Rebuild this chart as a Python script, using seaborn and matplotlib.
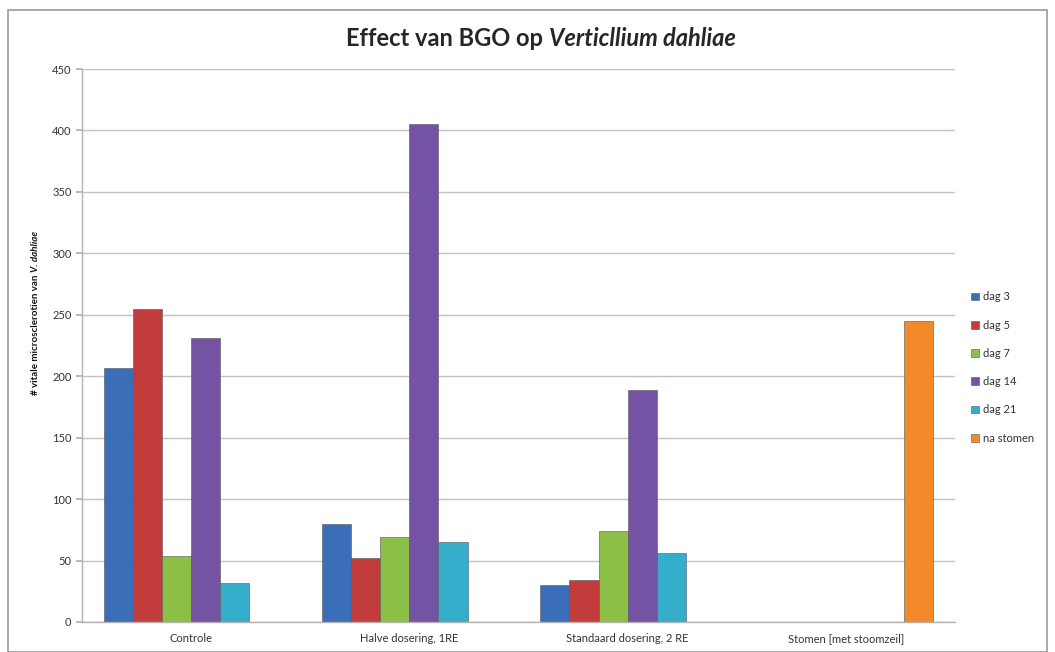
import matplotlib
matplotlib.use("Agg")
import matplotlib.pyplot as plt
import seaborn as sns
import pandas as pd
import numpy as np
from matplotlib.patches import Rectangle

categories = ["Controle", "Halve dosering, 1RE", "Standaard dosering, 2 RE", "Stomen [met stoomzeil]"]
series = ["dag 3", "dag 5", "dag 7", "dag 14", "dag 21", "na stomen"]
dag3 = [207, 80, 30, np.nan]
dag5 = [255, 52, 34, np.nan]
dag7 = [54, 69, 74, np.nan]
dag14 = [231, 405, 189, np.nan]
dag21 = [32, 65, 56, np.nan]
na_stomen = [np.nan, np.nan, np.nan, 245]
colors = ["#3A6EB8", "#C23C3B", "#8CBF48", "#7452A4", "#34AECB", "#F28A2C"]

values = [dag3, dag5, dag7, dag14, dag21, na_stomen]
rows = []
for s, vals in zip(series, values):
    for c, v in zip(categories, vals):
        rows.append({"cat": c, "serie": s, "val": v})
df = pd.DataFrame(rows)

sns.set_theme(style="white")
plt.rcParams['font.family'] = ['Lato', 'DejaVu Sans']

fig = plt.figure(figsize=(10.55, 6.52), dpi=100)
ax = fig.add_axes([82/1055, 1-622/652, (955-82)/1055, (622-69)/652])

sns.barplot(data=df, x="cat", y="val", hue="serie", order=categories, hue_order=series,
            palette=colors, width=0.8, ax=ax, saturation=1, edgecolor="#555555", linewidth=0.4)

ax.set_ylim(0, 450)
ax.set_yticks(range(0, 451, 50))
ax.yaxis.grid(True, color="#CBBFBD", linewidth=1.0)
ax.set_axisbelow(True)
ax.set_xlabel("")
ax.set_ylabel("")
for s in ["top", "right"]:
    ax.spines[s].set_visible(False)
for s in ["left", "bottom"]:
    ax.spines[s].set_color("#B8AFAF")
    ax.spines[s].set_linewidth(1.0)
ax.tick_params(axis="y", labelsize=8, colors="#333333", length=4, direction="out", left=True, color="#B8AFAF")
ax.tick_params(axis="x", labelsize=8, colors="#333333", length=0, pad=8)

# legend
h, l = ax.get_legend_handles_labels()
leg = ax.legend(h, l, loc="upper left", bbox_to_anchor=(967/1055, 1-287/652), bbox_transform=fig.transFigure,
                frameon=False, fontsize=8, handlelength=0.7, handleheight=0.7, labelspacing=1.55,
                handletextpad=0.3, borderaxespad=0)
for t in leg.get_texts():
    t.set_color("#333333")

fig.canvas.draw()
r = fig.canvas.get_renderer()

# title: bold + bold italic
t1 = fig.text(0, 0, "Effect van BGO op ", fontsize=17, fontweight="bold", ha="left", va="center")
t2 = fig.text(0, 0, "Verticllium dahliae", fontsize=17, fontweight="bold", fontstyle="italic", ha="left", va="center")
w1 = t1.get_window_extent(r).width
w2 = t2.get_window_extent(r).width
cx = 541
x0 = cx - (w1 + w2) / 2
ty = 1 - 38/652
t1.set_position((x0/1055, ty))
t2.set_position(((x0 + w1)/1055, ty))

# y label: bold + bold italic, rotated
y1 = fig.text(0, 0, "# vitale microsclerotien van ", fontsize=7, fontweight="bold", rotation=90,
              ha="center", va="bottom", color="#111111")
y2 = fig.text(0, 0, "V. dahliae", fontsize=7, fontweight="bold", fontstyle="italic", rotation=90,
              ha="center", va="bottom", color="#111111")
h1 = y1.get_window_extent(r).height
h2 = y2.get_window_extent(r).height
cy = 652 - 313
yb = cy - (h1 + h2) / 2
lx = 35 / 1055
y1.set_position((lx, yb / 652))
y2.set_position((lx, (yb + h1) / 652))

# outer border
fig.patches.append(Rectangle((8/1055, 0), 1-16/1055, 1-10/652, transform=fig.transFigure,
                             fill=False, edgecolor="#9A9A9A", linewidth=1.2))

fig.savefig("out.png", dpi=100)
